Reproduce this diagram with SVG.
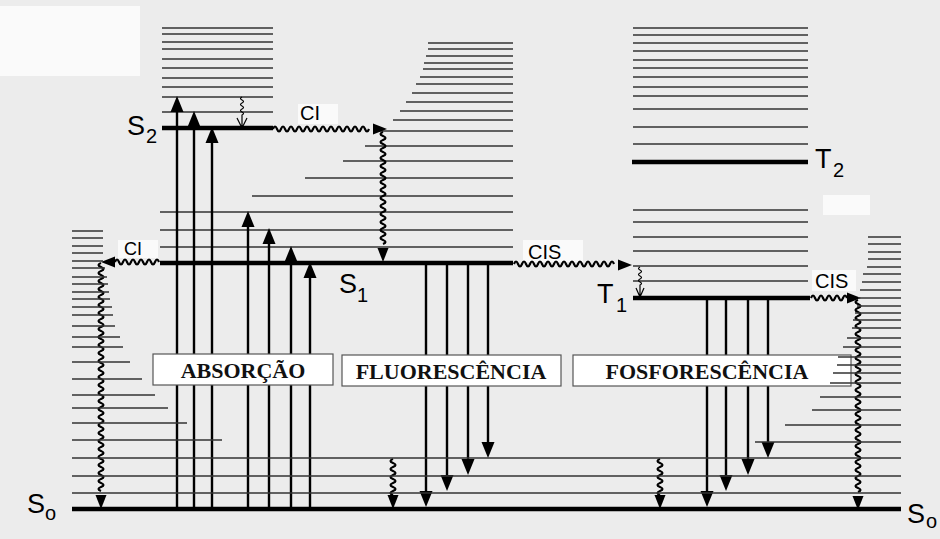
<svg xmlns="http://www.w3.org/2000/svg" xmlns:xlink="http://www.w3.org/1999/xlink" width="940" height="539" viewBox="0 0 940 539">
<style>
.lad{stroke:#333;stroke-width:1.6;fill:none}
.lvl{stroke:#000;stroke-width:4.5;fill:none}
.shaft{stroke:#000;stroke-width:2.4;fill:none}
.wave{stroke:#000;stroke-width:2.2;fill:none;stroke-linejoin:round}
.thin{stroke:#000;stroke-width:1.2;fill:none}
.lab{font-family:"Liberation Sans",Arial,sans-serif;font-size:27px;fill:#000}
.sub{font-family:"Liberation Sans",Arial,sans-serif;font-size:20px;fill:#000}
.tl{font-family:"Liberation Sans",Arial,sans-serif;font-size:20px;fill:#000}
.box{fill:#fff;stroke:#555;stroke-width:1.2}
.bt{font-family:"Liberation Serif","Times New Roman",serif;font-size:22px;font-weight:bold;fill:#111;text-anchor:middle}
.patch{fill:#fafafa}
</style>
<defs>
<path id="ah" d="M0 0L-6.5 -16L6.5 -16Z" fill="#000"/>
<path id="aw" d="M0 0L-5.5 -14L5.5 -14Z" fill="#000"/>
</defs>
<rect x="0" y="0" width="940" height="539" fill="#ececec"/>
<rect class="patch" x="0" y="6" width="140" height="70"/>
<rect class="patch" x="298" y="104" width="40" height="20"/>
<rect class="patch" x="118" y="240" width="40" height="18"/>
<rect class="patch" x="523" y="240" width="60" height="22"/>
<rect class="patch" x="823" y="195" width="47" height="20"/>
<rect class="patch" x="812" y="270" width="44" height="21"/>

<g id="S2">
<path class="lad" d="M162 28H273M162 34H273M162 42H273M162 49H273M162 59H273M162 68H273M162 78H273M162 87H273M162 97H273M162 112H273"/>
<path class="lvl" d="M162 128H273"/>
<text class="lab" x="127" y="135">S</text><text class="sub" x="146" y="143">2</text>
</g>

<g id="S1">
<path class="lad" d="M428 43H513M428 49H513M426 56H513M424 63H513M423 69H513M420 77H513M416 84H513M412 93H513M406 102H513M400 111H513M393 120H513M378 131H513M365 146H513M343 161H513M305 178H513M252 196H513M160 212H513M160 230H513M160 247H513"/>
<path class="lvl" d="M160 263H513"/>
<text class="lab" x="339" y="293">S</text><text class="sub" x="357" y="302">1</text>
</g>

<g id="T2">
<path class="lad" d="M633 28H808M633 35H808M633 43H808M633 51H808M633 60H808M633 68H808M633 77H808M633 87H808M633 96H808M633 109H808M633 127H808M633 144H808"/>
<path class="lvl" d="M632 162H808"/>
<text class="lab" x="815" y="168">T</text><text class="sub" x="833" y="177">2</text>
</g>

<g id="T1">
<path class="lad" d="M633 210H808M633 222H808M633 237H808M633 251H808M633 266H808M633 281H808"/>
<path class="lvl" d="M633 298H810"/>
<text class="lab" x="597" y="303">T</text><text class="sub" x="616" y="312">1</text>
</g>

<g id="connectors">
<path class="shaft" d="M177 507V108M194 507V123M212 507V139M248 507V223M269 507V240M291 507V258M310 507V274"/>
<use xlink:href="#ah" transform="translate(177 96) rotate(180)"/>
<use xlink:href="#ah" transform="translate(194 111) rotate(180)"/>
<use xlink:href="#ah" transform="translate(212 127) rotate(180)"/>
<use xlink:href="#ah" transform="translate(248 211) rotate(180)"/>
<use xlink:href="#ah" transform="translate(269 228) rotate(180)"/>
<use xlink:href="#ah" transform="translate(291 246) rotate(180)"/>
<use xlink:href="#ah" transform="translate(310 262) rotate(180)"/>
<path class="shaft" d="M426 265V495M447 265V479M468 265V463M488 265V446"/>
<use xlink:href="#ah" transform="translate(426 507)"/>
<use xlink:href="#ah" transform="translate(447 491)"/>
<use xlink:href="#ah" transform="translate(468 475)"/>
<use xlink:href="#ah" transform="translate(488 458)"/>
<path class="shaft" d="M707 300V495M726 300V479M748 300V463M768 300V446"/>
<use xlink:href="#ah" transform="translate(707 507)"/>
<use xlink:href="#ah" transform="translate(726 491)"/>
<use xlink:href="#ah" transform="translate(748 475)"/>
<use xlink:href="#ah" transform="translate(768 458)"/>
<path class="wave" d="M273 129q2 -5 4 0t4 0t4 0t4 0t4 0t4 0t4 0t4 0 t4 0t4 0t4 0t4 0t4 0t4 0t4 0t4 0 t4 0t4 0t4 0t4 0t4 0t4 0t4 0t4 0"/>
<use xlink:href="#aw" transform="translate(387 129) rotate(-90)"/>
<path class="wave" d="M383 132q-5 2 0 4t0 4t0 4t0 4t0 4t0 4t0 4t0 4 t0 4t0 4t0 4t0 4t0 4t0 4t0 4t0 4 t0 4t0 4t0 4t0 4t0 4t0 4t0 4t0 4 t0 4t0 4t0 4t0 4"/>
<use xlink:href="#aw" transform="translate(383 262)"/>
<text class="tl" x="300" y="120">CI</text>
<path class="wave" d="M159 262q-2 -5 -4 0t-4 0t-4 0t-4 0t-4 0t-4 0t-4 0t-4 0t-4 0t-4 0t-4 0"/>
<use xlink:href="#aw" transform="translate(101 262) rotate(90)"/>
<path class="wave" d="M101 263q-5 2 0 4t0 4t0 4t0 4t0 4t0 4t0 4t0 4 t0 4t0 4t0 4t0 4t0 4t0 4t0 4t0 4 t0 4t0 4t0 4t0 4t0 4t0 4t0 4t0 4 t0 4t0 4t0 4t0 4t0 4t0 4t0 4t0 4 t0 4t0 4t0 4t0 4t0 4t0 4t0 4t0 4 t0 4t0 4t0 4t0 4t0 4t0 4t0 4t0 4 t0 4t0 4t0 4t0 4t0 4t0 4t0 4t0 4 t0 4"/>
<use xlink:href="#aw" transform="translate(101 509)"/>
<text class="tl" x="124" y="255" style="font-size:18px">CI</text>
<path class="wave" d="M514 264q2 -5 4 0t4 0t4 0t4 0t4 0t4 0t4 0t4 0 t4 0t4 0t4 0t4 0t4 0t4 0t4 0t4 0 t4 0t4 0t4 0t4 0t4 0t4 0t4 0t4 0 t4 0"/>
<use xlink:href="#aw" transform="translate(632 265) rotate(-90)"/>
<text class="tl" x="528" y="259">CIS</text>
<path class="thin" d="M640 267q-3 1.5 0 3t0 3t0 3t0 3t0 3t0 3L640 296M636 288L640 297L644 288"/>
<path class="thin" d="M242 97q-3 1.5 0 3t0 3t0 3t0 3t0 3t0 3L242 127M237 118L242 128L247 118"/>
<path class="wave" d="M811 298q2 -5 4 0t4 0t4 0t4 0t4 0t4 0t4 0t4 0t4 0"/>
<use xlink:href="#aw" transform="translate(861 298) rotate(-90)"/>
<text class="tl" x="815" y="288">CIS</text>
<path class="wave" d="M858 300q-5 2 0 4t0 4t0 4t0 4t0 4t0 4t0 4t0 4 t0 4t0 4t0 4t0 4t0 4t0 4t0 4t0 4 t0 4t0 4t0 4t0 4t0 4t0 4t0 4t0 4 t0 4t0 4t0 4t0 4t0 4t0 4t0 4t0 4 t0 4t0 4t0 4t0 4t0 4t0 4t0 4t0 4 t0 4t0 4t0 4t0 4t0 4t0 4t0 4t0 4"/>
<use xlink:href="#aw" transform="translate(858 510)"/>
<path class="wave" d="M393 459q-5 2 0 4t0 4t0 4t0 4t0 4t0 4t0 4t0 4t0 4"/>
<use xlink:href="#aw" transform="translate(393 509)"/>
<path class="wave" d="M660 459q-5 2 0 4t0 4t0 4t0 4t0 4t0 4t0 4t0 4t0 4"/>
<use xlink:href="#aw" transform="translate(660 509)"/>
</g>

<g id="absorcao">
<rect class="box" x="153" y="354" width="180" height="31"/>
<text class="bt" x="243" y="378">ABSORÇÃO</text>
</g>
<g id="fluorescencia">
<rect class="box" x="342" y="355" width="219" height="31"/>
<text class="bt" x="451" y="379">FLUORESCÊNCIA</text>
</g>
<g id="fosforescencia">
<rect class="box" x="573" y="355" width="278" height="31"/>
<text class="bt" x="707" y="379">FOSFORESCÊNCIA</text>
</g>

<g id="S0">
<path class="lad" d="M72 231H103M72 238H103M72 246H103M72 253H103M72 261H103M72 268H105M72 277H107M72 284H108M72 292H109M72 299H110M72 307H112M72 315H113M72 326H115M72 337H120M72 347H123M72 362H130M72 379H142M72 395H155M72 408H168M72 423H187M72 440H222"/>
<path class="lad" d="M868 237H901M868 244H901M868 252H901M868 259H901M867 267H901M863 274H901M862 282H901M860 290H901M858 298H901M857 306H901M855 313H901M853 320H901M852 328H901M847 338H901M843 347H901M838 357H901M837 365H901M833 373H901M830 383H901M820 397H901M812 410H901M785 425H901M755 442H901"/>
<path class="lad" d="M72 458H901M72 476H901M72 493H901"/>
<path class="lvl" d="M72 509H901"/>
<text class="lab" x="27" y="513">S</text><text class="sub" x="45" y="520">o</text>
<text class="lab" x="907" y="523">S</text><text class="sub" x="926" y="528">o</text>
</g>
</svg>
